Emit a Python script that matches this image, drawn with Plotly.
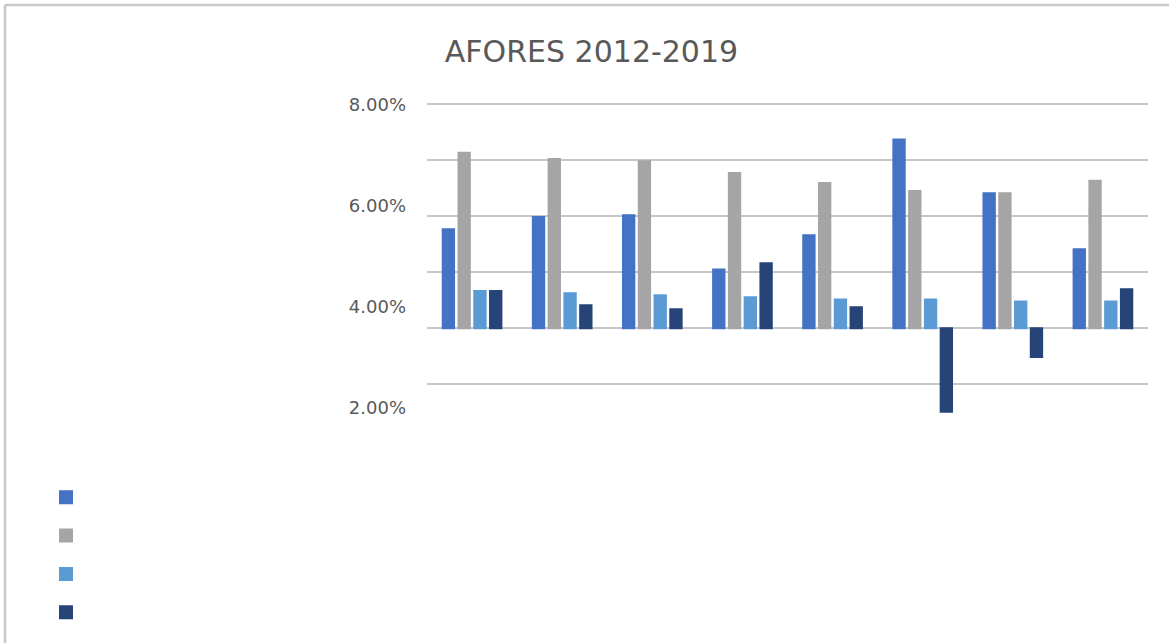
import plotly.graph_objects as go

# AFORES yearly figures, four series per year (percent)
years = ["2012", "2013", "2014", "2015", "2016", "2017", "2018", "2019"]
series_a = [3.53, 3.97, 4.03, 2.10, 3.32, 6.74, 4.82, 2.82]
series_b = [6.26, 6.04, 5.96, 5.54, 5.18, 4.90, 4.82, 5.26]
series_c = [1.33, 1.25, 1.18, 1.11, 1.03, 1.03, 0.96, 0.96]
series_d = [1.33, 0.82, 0.68, 2.32, 0.75, -2.98, -1.02, 1.39]

series_names = ["", "", "", ""]
series_colors = ["#4472C4", "#A5A5A5", "#5B9BD5", "#264478"]

# labels shown on the value axis
label_values = [2, 4, 6, 8]
label_text = [f"{v:.2f}%" for v in label_values]

W, H = 1169, 643
M_L, M_R, M_T, M_B = 427, 21, 90, 203

fig = go.Figure()
for i, (name, vals, col) in enumerate(
        zip(series_names, [series_a, series_b, series_c, series_d], series_colors)):
    fig.add_trace(go.Bar(
        x=years, y=vals, name=name,
        marker=dict(color=col, line=dict(width=2, color=col)),
        legendgroup=f"g{i}",
        hoverinfo="x+y",
    ))

# helper trace that carries the labelled value axis
fig.add_trace(go.Scatter(
    x=years, y=[None] * len(years), yaxis="y2",
    showlegend=False, hoverinfo="skip", mode="markers",
))

grid_col = "#C6C6C6"
fig.update_layout(
    width=W, height=H,
    margin=dict(l=M_L, r=M_R, t=M_T, b=M_B),
    paper_bgcolor="white",
    plot_bgcolor="white",
    barmode="group",
    bargap=0.30,
    bargroupgap=0.28,
    title=dict(
        text="AFORES 2012-2019",
        font=dict(family="DejaVu Sans", size=30, color="#595959"),
        x=591.5 / W, xref="container", xanchor="center",
        y=1 - 51 / H, yref="container", yanchor="middle",
    ),
    xaxis=dict(
        showticklabels=False, showgrid=False, zeroline=False,
        showline=False, ticks="",
    ),
    yaxis=dict(
        range=[-3.985, 8.502],
        tick0=0, dtick=2,
        showgrid=True, gridcolor=grid_col, gridwidth=2,
        zeroline=False, showline=False, showticklabels=False, ticks="",
    ),
    yaxis2=dict(
        overlaying="y", side="left",
        range=[1.366, 8.297],
        tickmode="array",
        tickvals=label_values,
        ticktext=label_text,
        showgrid=False, zeroline=False, showline=False, ticks="",
        ticklabelstandoff=20,
        tickfont=dict(family="DejaVu Sans", size=18, color="#595959"),
    ),
    legend=dict(
        orientation="v",
        xref="container", yref="container",
        x=46 / W, xanchor="left",
        y=1 - 473 / H, yanchor="top",
        font=dict(size=27.2, color="#595959"),
        traceorder="normal",
        bgcolor="rgba(0,0,0,0)",
        tracegroupgap=0,
    ),
    shapes=[
        # chart-area frame (top and left edges)
        dict(type="line", xref="paper", yref="paper",
             x0=(5 - M_L) / (W - M_L - M_R), x1=(W - M_L) / (W - M_L - M_R),
             y0=1 + (M_T - 5) / (H - M_T - M_B), y1=1 + (M_T - 5) / (H - M_T - M_B),
             line=dict(color="#C8C8C8", width=2.5)),
        dict(type="line", xref="paper", yref="paper",
             x0=(5 - M_L) / (W - M_L - M_R), x1=(5 - M_L) / (W - M_L - M_R),
             y0=1 + (M_T - 5) / (H - M_T - M_B), y1=-M_B / (H - M_T - M_B),
             line=dict(color="#C8C8C8", width=2.5)),
    ],
)

fig.write_html("out.html")
